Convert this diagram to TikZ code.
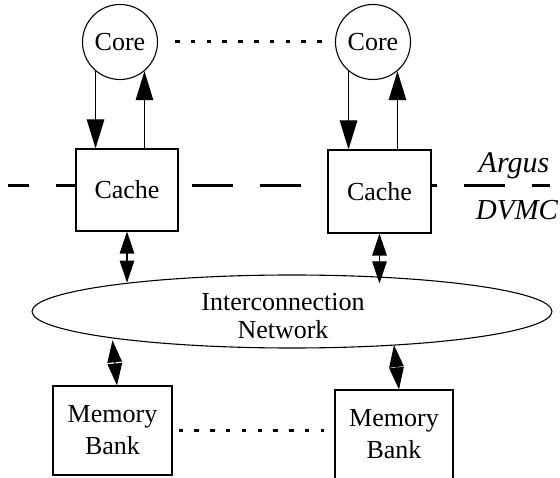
\documentclass[tikz,border=0pt]{standalone}
\usepackage{fontspec}
\setmainfont{Liberation Serif}
\usetikzlibrary{arrows.meta, calc, shapes.geometric}

\begin{document}
\begin{tikzpicture}[x=1pt, y=-1pt, line width=1.1pt,
  font=\fontsize{26}{30}\selectfont,
  core/.style={circle, draw, minimum size=75pt, inner sep=0pt},
  unit/.style={draw, fill=white, inner sep=0pt, align=center},
  bigtip/.style={-{Triangle[length=29pt, width=17.5pt]}},
  duptip/.style={{Triangle[length=22pt, width=14.5pt]}-{Triangle[length=22pt, width=14.5pt]}},
  dots/.style={line width=3pt, dash pattern=on 4.5pt off 11.3pt}]

  \useasboundingbox (0,0) rectangle (560,478);
  \clip (0,0) rectangle (560,478);

  % Grenze Argus / DVMC
  \draw[line width=3pt, dash pattern=on 41pt off 27pt, dash phase=20pt]
    (8,186) -- (550,186);
  \node[anchor=base, font=\fontsize{30}{32}\selectfont\itshape] (argus) at (514,173) {Argus};
  \node[anchor=base, font=\fontsize{29}{32}\selectfont\itshape] (dvmc) at (517,220) {DVMC};

  % Kerne
  \node[core] (core1) at (120,42) {Core};
  \node[core] (core2) at (373,42) {Core};
  \draw[dots, shorten <=17pt, shorten >=12pt] (core1) -- (core2);

  % Caches
  \node[unit, minimum width=102pt, minimum height=82pt] (cache1) at (127,190) {Cache};
  \node[unit, minimum width=103pt, minimum height=83pt] (cache2) at (379.5,191.5) {Cache};

  % Kern <-> Cache
  \draw[bigtip] (core1.230) -- (core1.230 |- cache1.north);
  \draw[bigtip] (cache1.north -| core1.310) -- (core1.310);
  \draw[bigtip] (core2.230) -- (core2.230 |- cache2.north);
  \draw[bigtip] (cache2.north -| core2.310) -- (core2.310);

  % Verbindungsnetz
  \node[ellipse, draw, minimum width=520pt, minimum height=73pt, inner sep=0pt]
    (net) at (292,311.5) {};
  \node[align=center, font=\fontsize{26}{28}\selectfont] (netlabel) at (283,316)
    {Interconnection\\Network};

  \draw[duptip] (cache1.south) -- (cache1.south |- net.170);
  \draw[duptip] (cache2.south) -- ($(cache2.south |- net.north)+(0,9)$);

  % Speicherbaenke
  \node[unit, minimum width=119pt, minimum height=89pt] (mem1) at (112.5,430.5)
    {Memory\\[2pt]Bank};
  \node[unit, minimum width=118pt, minimum height=89pt] (mem2) at (394,434.5)
    {Memory\\[2pt]Bank};
  \draw[dots, shorten <=6pt, shorten >=10pt] (mem1.east) -- (mem1.east -| mem2.west);

  \draw[duptip] (net.190 -| mem1.north) -- ([xshift=4.5pt]mem1.north);
  \draw[duptip] (net.343 -| mem2.north) -- ([xshift=5pt]mem2.north);
\end{tikzpicture}
\end{document}
